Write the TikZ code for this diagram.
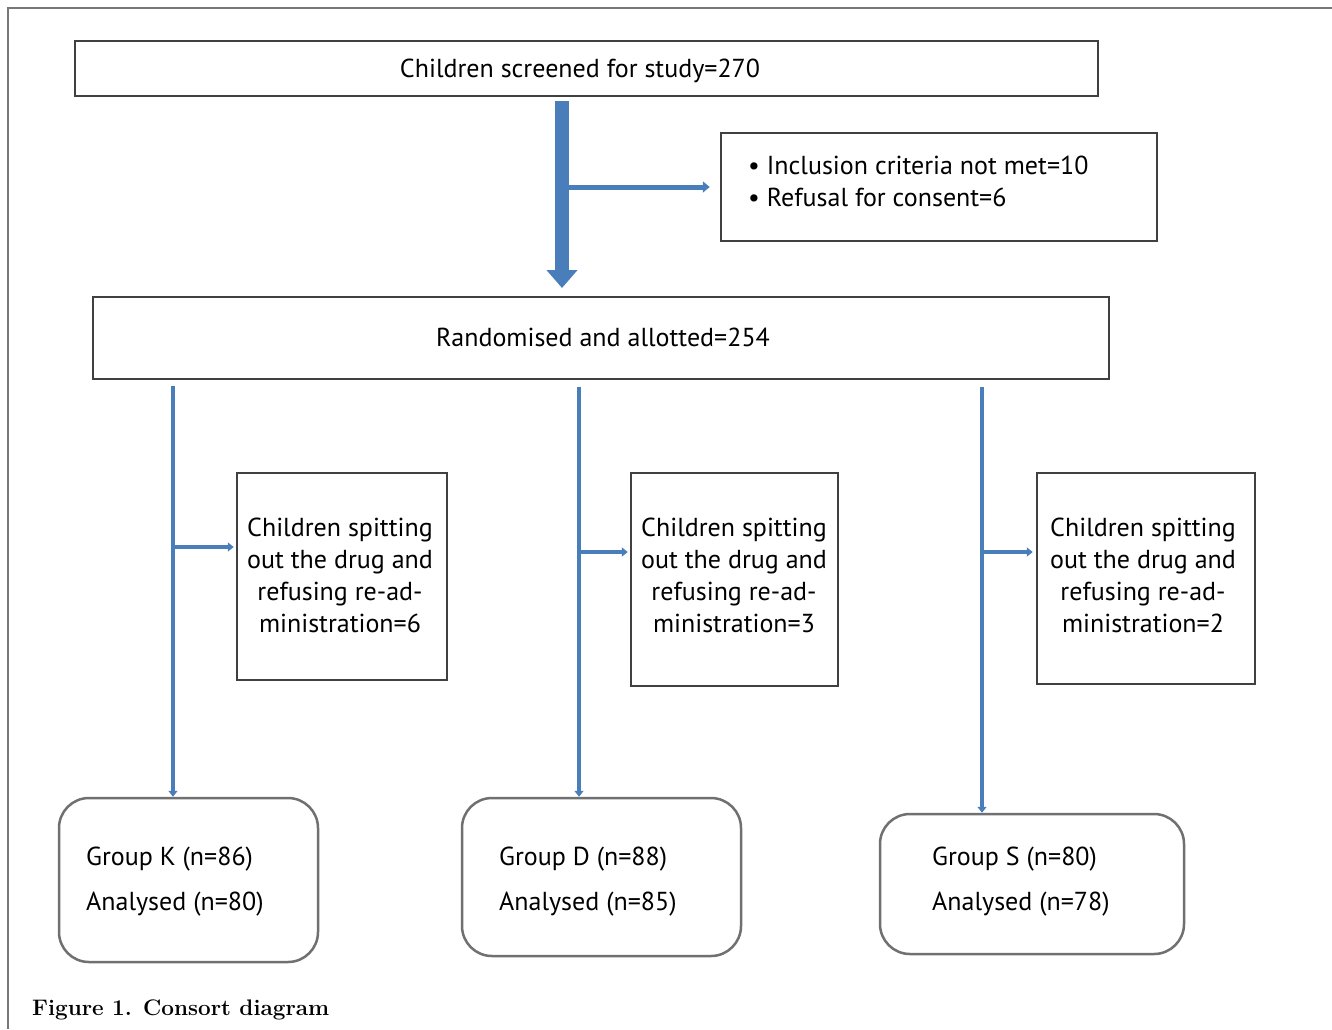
\documentclass[tikz,border=0pt]{standalone}
\usepackage{fontspec}
\setmainfont{PT Sans}
\newfontfamily\capfont{Latin Modern Roman}
\usetikzlibrary{arrows.meta}
\definecolor{arrblue}{RGB}{74,126,187}
\definecolor{boxgray}{RGB}{64,64,64}
\definecolor{roundgray}{RGB}{112,112,112}
\definecolor{framegray}{RGB}{120,120,120}
\tikzset{
  sqbox/.style={draw=boxgray, line width=2.5pt, fill=white, inner sep=0pt},
  rbox/.style={draw=roundgray, line width=2.5pt, rounded corners=30pt, inner sep=0pt},
  bodytext/.style={font=\fontsize{26}{32}\selectfont, text=black, inner sep=0pt},
  grouptext/.style={font=\fontsize{26}{45}\selectfont, text=black, inner sep=0pt, anchor=west, align=left},
  thinarrow/.style={draw=arrblue, line width=4pt, -{Triangle[length=6pt,width=9pt]}},
  bigarrow/.style={draw=arrblue, line width=14pt, -{Triangle[length=18pt,width=30pt]}},
}
\begin{document}
\begin{tikzpicture}[x=1pt,y=-1pt]
\useasboundingbox (0,0) rectangle (1332,1029);
% frame
\coordinate (fr0) at (8,8);
\coordinate (fr1) at (1332,8);
\coordinate (fr2) at (8,1029);
\draw[framegray, line width=2pt] (fr1) -- (fr0) -- (fr2);

% boxes
\node[sqbox, minimum width=1023pt, minimum height=55pt] (screen) at (586.5,68.5) {};
\node[bodytext] (screenT) at (580,71) {Children screened for study=270};
\node[sqbox, minimum width=436pt, minimum height=108pt] (excl) at (939,187) {};
\node[bodytext, anchor=west, align=left] (exclT) at (748,181.5) {\textbullet\ Inclusion criteria not met=10\\\textbullet\ Refusal for consent=6};
\node[sqbox, minimum width=1016pt, minimum height=82pt] (rand) at (601,338) {};
\node[bodytext] (randT) at (603,337) {Randomised and allotted=254};

\node[sqbox, minimum width=210pt, minimum height=207pt] (sK) at (342,576.5) {};
\node[bodytext, align=center] (sKT) at (340,575) {Children spitting\\out the drug and\\refusing re-ad-\\ministration=6};
\node[sqbox, minimum width=207pt, minimum height=213pt] (sD) at (734.5,579.5) {};
\node[bodytext, align=center] (sDT) at (734,575) {Children spitting\\out the drug and\\refusing re-ad-\\ministration=3};
\node[sqbox, minimum width=218pt, minimum height=211pt] (sS) at (1146,578.5) {};
\node[bodytext, align=center] (sST) at (1143,575) {Children spitting\\out the drug and\\refusing re-ad-\\ministration=2};

\node[rbox, minimum width=259pt, minimum height=164pt] (gK) at (188.5,880) {};
\node[grouptext] (gKT) at (86,882) {Group K (n=86)\\Analysed (n=80)};
\node[rbox, minimum width=279pt, minimum height=158pt] (gD) at (601.5,877) {};
\node[grouptext] (gDT) at (499,882) {Group D (n=88)\\Analysed (n=85)};
\node[rbox, minimum width=304pt, minimum height=140pt] (gS) at (1032,884) {};
\node[grouptext] (gST) at (932,882) {Group S (n=80)\\Analysed (n=78)};

% big arrow
\coordinate (bigTop) at (562,101);
\coordinate (bigEnd) at (562,288);
\coordinate (exBr) at (566,187);
\draw[bigarrow] (bigTop) -- (bigEnd);
\draw[draw=arrblue, line width=5pt, -{Triangle[length=7pt,width=11pt]}, shorten >=10pt] (exBr) -- (exBr -| excl.west);

% vertical lines
\coordinate (kTop) at (173,386);
\coordinate (dTop) at (579,387);
\coordinate (sTop) at (982,387);
\draw[thinarrow] (kTop) -- (kTop |- gK.north);
\draw[thinarrow] (dTop) -- (dTop |- gD.north);
\draw[thinarrow] (sTop) -- (sTop |- gS.north);
\coordinate (kBr) at (173,547);
\coordinate (dBr) at (579,552);
\coordinate (sBr) at (982,552);
\draw[thinarrow, shorten >=2pt] (kBr) -- (kBr -| sK.west);
\draw[thinarrow, shorten >=2pt] (dBr) -- (dBr -| sD.west);
\draw[thinarrow, shorten >=3pt] (sBr) -- (sBr -| sS.west);

% caption
\node[anchor=west, inner sep=0pt, font=\capfont\bfseries\fontsize{22.5}{24}\selectfont] (cap) at (32,1010) {Figure 1. Consort diagram};
\end{tikzpicture}
\end{document}
